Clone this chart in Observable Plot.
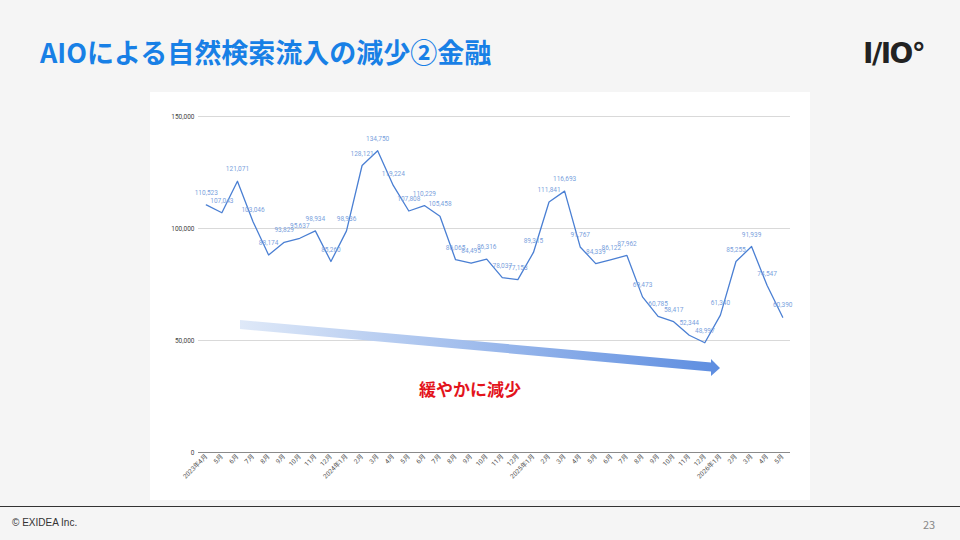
<!DOCTYPE html>
<html>
<head>
<meta charset="utf-8">
<script src="https://cdn.jsdelivr.net/npm/d3@7"></script>
<script src="https://cdn.jsdelivr.net/npm/@observablehq/plot@0.6"></script>
<style>
  html, body { margin:0; padding:0; }
  body { width:960px; height:540px; background:#f5f5f5; position:relative; overflow:hidden;
         font-family: "Noto Sans CJK JP", "Noto Sans", sans-serif; }
  #title { position:absolute; left:40px; top:36px; font-size:27px; line-height:32px; font-weight:700; color:#1880e6; white-space:nowrap; }
  #logo { position:absolute; left:863px; top:36px; font-family:"DejaVu Sans", sans-serif; font-weight:700; font-size:28px; line-height:36px; color:#222; letter-spacing:-1.5px; }
  #panel { position:absolute; left:150px; top:92px; width:660px; height:408px; background:#fff; }
  #overlay { position:absolute; left:0; top:0; }
  #note { position:absolute; left:400px; top:377px; width:140px; text-align:center; font-size:17px; line-height:24px; font-weight:700; color:#e3141c; }
  #footline { position:absolute; left:0; top:506px; width:960px; height:1px; background:#333; }
  #copy { position:absolute; left:12px; top:517px; font-family:"Liberation Sans Narrow","Liberation Sans",sans-serif; font-size:10px; color:#333; }
  #page { position:absolute; left:923px; top:516px; font-size:11px; color:#888; }
</style>
</head>
<body>
<div id="title">AIOによる自然検索流入の減少②金融</div>
<div id="logo">I/IO°</div>
<div id="panel"></div>
<svg id="overlay" width="960" height="540">
  <defs>
    <linearGradient id="ag" x1="240" y1="0" x2="720" y2="0" gradientUnits="userSpaceOnUse">
      <stop offset="0" stop-color="#dfe9f8"/>
      <stop offset="1" stop-color="#5d8de0"/>
    </linearGradient>
  </defs>
  <polygon points="240,320 711,362.5 711,359 720,368 711,376 711,371.5 240,329" fill="url(#ag)"/>
</svg>
<div id="note">緩やかに減少</div>
<div id="footline"></div>
<div id="copy">© EXIDEA Inc.</div>
<div id="page">23</div>
<script>
const months = [
  "2023年4月","5月","6月","7月","8月","9月","10月","11月","12月",
  "2024年1月","2月","3月","4月","5月","6月","7月","8月","9月","10月","11月","12月",
  "2025年1月","2月","3月","4月","5月","6月","7月","8月","9月","10月","11月","12月",
  "2026年1月","2月","3月","4月","5月"
];
const sessions = [
  110523,107043,121071,103046,88174,93829,95637,98934,85260,
  98936,128121,134750,119224,107808,110229,105458,86065,84495,86316,78037,77153,
  89315,111841,116693,91767,84339,86122,87962,69473,60785,58417,52344,48997,
  61340,85255,91939,74547,60390
];
const yTicks = [0, 50000, 100000, 150000];

const data = months.map((m, i) => ({i, m, v: sessions[i]}));
const fmt = d3.format(",");

const chart = Plot.plot({
  width: 660,
  height: 408,
  marginLeft: 48,
  marginRight: 20,
  marginTop: 24,
  marginBottom: 48,
  style: {background: "transparent", fontFamily: "Roboto, 'Noto Sans CJK JP', sans-serif", fontSize: "6.5px", overflow: "visible"},
  x: {type: "linear", domain: [-0.5, months.length - 0.5], label: null},
  y: {domain: [0, 150000], label: null},
  marks: [
    Plot.gridY(yTicks.slice(1), {stroke: "#d9d9d9", strokeOpacity: 1}),
    Plot.ruleY([0], {stroke: "#8a8a8a", strokeWidth: 1}),
    Plot.axisY(yTicks, {tickSize: 0, tickPadding: 4, tickFormat: fmt, fill: "#444", label: null}),
    Plot.axisX(d3.range(months.length), {tickSize: 0, tickPadding: 3, tickRotate: -45, tickFormat: i => months[i], fill: "#555", label: null}),
    Plot.lineY(data, {x: "i", y: "v", stroke: "#4a7fd3", strokeWidth: 1.3}),
    Plot.text(data, {x: "i", y: "v", text: d => fmt(d.v), dy: -12, fill: "#7a9fdd"})
  ]
});
document.getElementById("panel").appendChild(chart);
</script>
</body>
</html>
